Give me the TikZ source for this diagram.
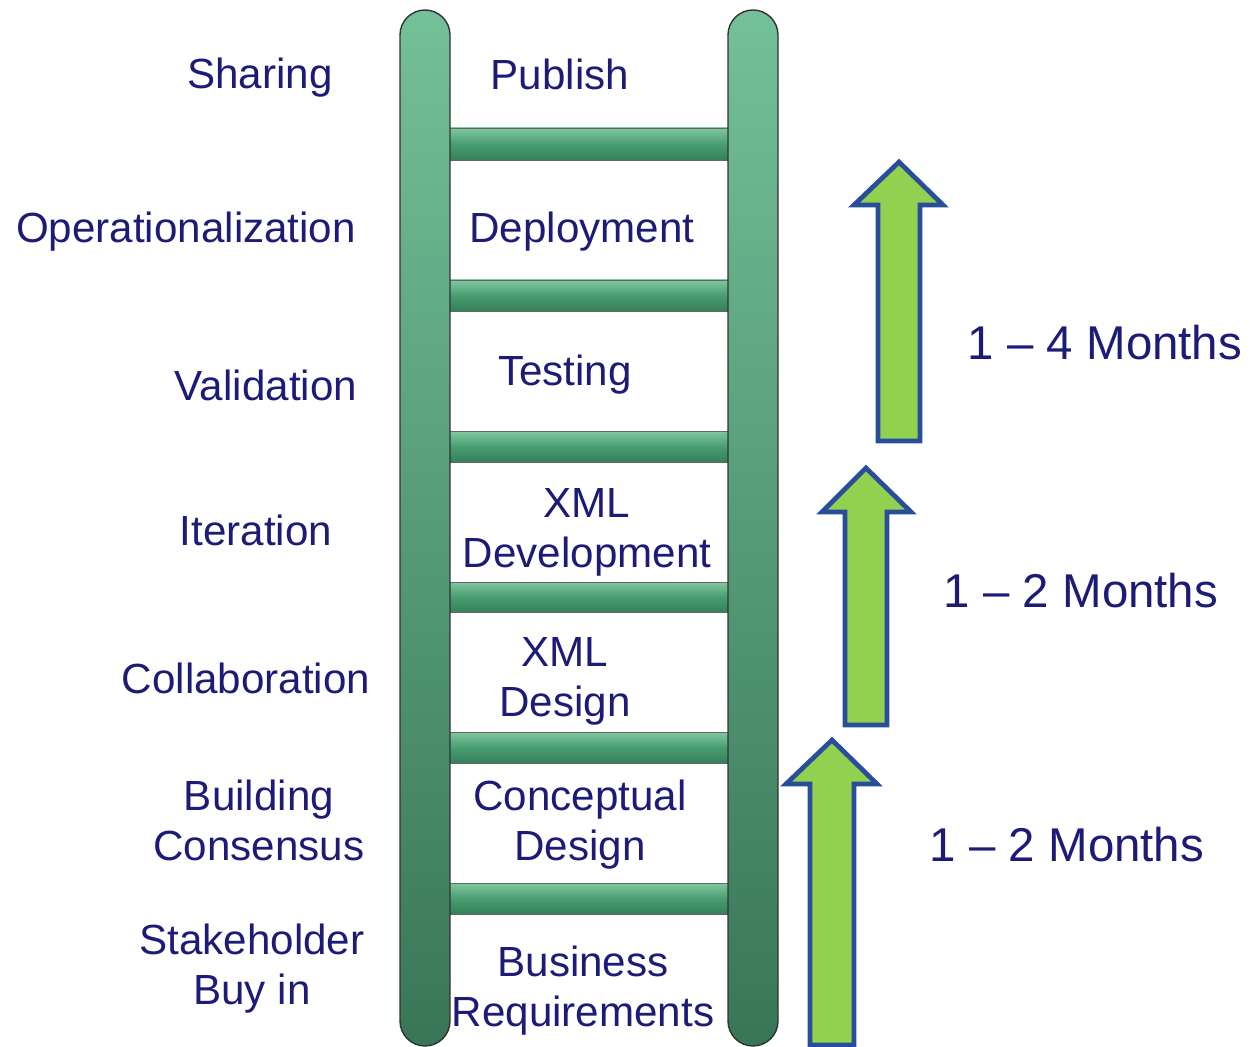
\documentclass[tikz,border=0pt]{standalone}
\usepackage{fontspec}
\setmainfont{Liberation Sans}
\definecolor{labelblue}{RGB}{28,28,120}
\definecolor{railtop}{RGB}{116,192,152}
\definecolor{railbot}{RGB}{56,118,88}
\definecolor{rungtop}{RGB}{128,200,160}
\definecolor{rungmid}{RGB}{72,158,112}
\definecolor{rungbot}{RGB}{52,128,90}
\definecolor{arrowgreen}{RGB}{146,208,80}
\definecolor{arrowblue}{RGB}{40,78,155}

\begin{document}
\begin{tikzpicture}[x=0.02cm,y=-0.02cm]
        \tikzset{
          lbl/.style={text=labelblue, font=\fontsize{24}{28.5}\selectfont, align=center},
          mlbl/.style={text=labelblue, font=\fontsize{27}{32}\selectfont},
          rail/.style={draw=black!80, thick, rounded corners=0.5cm, top color=railtop, bottom color=railbot},
          rung/.style={draw=black!60, top color=rungtop, bottom color=rungbot, middle color=rungmid},
          gobox/.style={fill=arrowgreen, draw=arrowblue, line width=2.7pt, line join=miter}
        }
        \useasboundingbox (0,0) rectangle (1250,1047);
        \draw [rung] (440,128) rectangle (738,160);
        \draw [rung] (440,280) rectangle (738,311);
        \draw [rung] (440,431) rectangle (738,462);
        \draw [rung] (440,582) rectangle (738,612);
        \draw [rung] (440,732) rectangle (738,763);
        \draw [rung] (440,883) rectangle (738,914);
        \draw [rail] (400,10) rectangle (450,1046); % Left rail.
        \draw [rail] (728,10) rectangle (778,1046); % Right rail.
        \draw [gobox] (878,441) -- (878,205) -- (854,205) -- (899,162) -- (943,205) -- (920,205) -- (920,441) -- cycle;
        \draw [gobox] (845,725) -- (845,512) -- (822,512) -- (866,468) -- (911,512) -- (887,512) -- (887,725) -- cycle;
        \draw [gobox] (810,1045) -- (810,784) -- (786,784) -- (832,740) -- (877,784) -- (854,784) -- (854,1045) -- cycle;
        \node [lbl] (sharing) at (260,78) {Sharing};
        \node [lbl] (oper) at (186,232) {Operationalization};
        \node [lbl] (valid) at (266,385) {Validation};
        \node [lbl] (iter) at (256,530) {Iteration};
        \node [lbl] (collab) at (246,678) {Collaboration};
        \node [lbl] (consensus) at (259,820) {Building\\Consensus};
        \node [lbl] (buyin) at (252,969) {Stakeholder\\Buy in};
        \node [lbl] (publish) at (560,74) {Publish};
        \node [lbl] (deploy) at (582,232) {Deployment};
        \node [lbl] (testing) at (565,375) {Testing};
        \node [lbl] (xmldev) at (587,532) {XML\\Development};
        \node [lbl] (xmldesign) at (565,681) {XML\\Design};
        \node [lbl] (concept) at (580,825) {Conceptual\\Design};
        \node [lbl] (business) at (583,991) {Business\\Requirements};
        \node [mlbl] (fourmonths) at (1105,343) {1 -- 4 Months};
        \node [mlbl] (twomonthsa) at (1081,591) {1 -- 2 Months};
        \node [mlbl] (twomonthsb) at (1067,845) {1 -- 2 Months};
      \end{tikzpicture}
\end{document}
